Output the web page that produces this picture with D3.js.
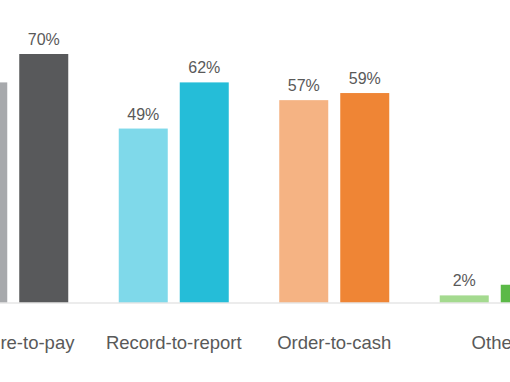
<!DOCTYPE html>
<html>
<head>
<meta charset="utf-8">
<script src="https://cdn.jsdelivr.net/npm/d3@7"></script>
<style>
  html, body { margin: 0; padding: 0; background: #fff; overflow: hidden; }
  text { font-family: "Liberation Sans", Arial, sans-serif; }
</style>
</head>
<body>
<div id="chart"></div>
<script>
/**
 * CONSTANTS AND DATA
 * */
const width = 510,
  height = 382;

const categories = ["Procure-to-pay", "Record-to-report", "Order-to-cash", "Other"];
const seriesNames = ["Current", "Planned"];
const currentValues = [62, 49, 57, 2];
const plannedValues = [70, 62, 59, 5];

const lightColors = ["#a7a9ac", "#7fd9ea", "#f5b383", "#a4da8f"];
const darkColors = ["#58595b", "#25bdd8", "#ef8535", "#5bb947"];

const data = categories.map((c, i) => ({
  category: c,
  values: [
    { key: seriesNames[0], value: currentValues[i], color: lightColors[i] },
    { key: seriesNames[1], value: plannedValues[i], color: darkColors[i] },
  ],
}));

/**
 * SCALES
 * */
// chart is wider than the window, the view crops it on both sides
const x0 = d3.scaleBand()
  .domain(categories)
  .range([-67, 575])
  .paddingInner(0.3146)
  .paddingOuter(0.1573);

const x1 = d3.scaleBand()
  .domain(seriesNames)
  .range([0, x0.bandwidth()])
  .paddingInner(12 / 61);

const y = d3.scaleLinear()
  .domain([0, 70])
  .range([302.5, 54]);

/**
 * DRAW
 * */
const svg = d3.select("#chart")
  .append("svg")
  .attr("width", width)
  .attr("height", height);

const group = svg.selectAll(".group")
  .data(data)
  .join("g")
  .attr("class", "group")
  .attr("transform", d => `translate(${x0(d.category)},0)`);

group.selectAll("rect")
  .data(d => d.values)
  .join("rect")
  .attr("x", d => x1(d.key))
  .attr("y", d => y(d.value))
  .attr("width", x1.bandwidth())
  .attr("height", d => y(0) - y(d.value))
  .attr("fill", d => d.color);

group.selectAll(".value")
  .data(d => d.values)
  .join("text")
  .attr("class", "value")
  .attr("x", d => x1(d.key) + x1.bandwidth() / 2)
  .attr("y", d => y(d.value) - 9)
  .attr("text-anchor", "middle")
  .style("font-size", "16px")
  .style("fill", "#595959")
  .text(d => d.value + "%");

// baseline
svg.append("line")
  .attr("x1", 0)
  .attr("x2", width)
  .attr("y1", y(0) + 0.5)
  .attr("y2", y(0) + 0.5)
  .attr("stroke", "#d9d9d9")
  .attr("stroke-width", 1);

// category labels
svg.selectAll(".cat")
  .data(categories)
  .join("text")
  .attr("class", "cat")
  .attr("x", d => x0(d) + x0.bandwidth() / 2)
  .attr("y", 349)
  .attr("text-anchor", "middle")
  .style("font-size", "18.5px")
  .style("fill", "#595959")
  .text(d => d);
</script>
</body>
</html>
